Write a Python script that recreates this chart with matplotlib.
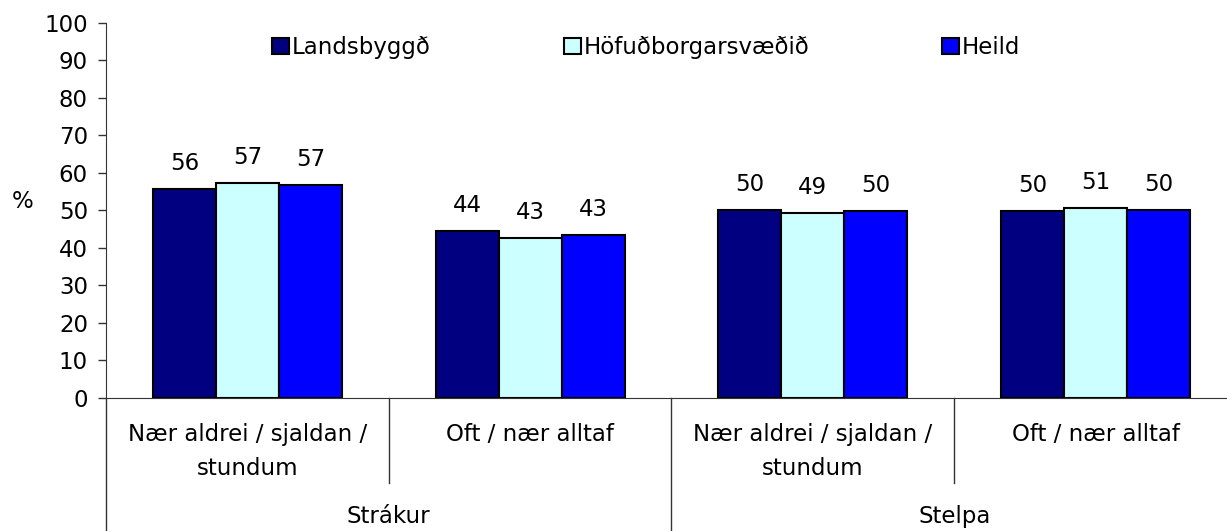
import numpy as np
import matplotlib
matplotlib.use('Agg')
import matplotlib.pyplot as plt
import matplotlib.transforms as mtransforms
from matplotlib.lines import Line2D

plt.rcParams['font.family'] = ['DejaVu Sans']

# Data
categories = ['Nær aldrei / sjaldan /\nstundum', 'Oft / nær alltaf',
              'Nær aldrei / sjaldan /\nstundum', 'Oft / nær alltaf']
groups = ['Strákur', 'Stelpa']
series_names = ['Landsbyggð', 'Höfuðborgarsvæðið', 'Heild']
landsbyggd = [55.6, 44.5, 50.2, 49.8]
hofudborg = [57.3, 42.7, 49.4, 50.6]
heild = [56.7, 43.4, 49.8, 50.2]
series_vals = [landsbyggd, hofudborg, heild]
colors = ['#000080', '#CCFFFF', '#0000FF']

fs = 16.5

fig = plt.figure(figsize=(12.27, 5.31), dpi=100)
ax = fig.add_axes([106/1227, 133/531, (1227-106)/1227, 375.3/531])

x = np.arange(len(categories))
w = 0.223
for i, (name, vals, col) in enumerate(zip(series_names, series_vals, colors)):
    pos = x + (i - 1) * w
    ax.bar(pos, vals, width=w, color=col, edgecolor='black', linewidth=1.5, label=name)
    for p, v in zip(pos, vals):
        ax.annotate('%d' % round(v), (p, v), xytext=(0, 10), textcoords='offset points',
                    ha='center', va='bottom', fontsize=fs)

ax.set_ylim(0, 100)
ax.set_yticks(range(0, 101, 10))
ax.set_xlim(-0.5, 3.5 - 10/283)
ax.set_xticks([])
ax.tick_params(axis='y', labelsize=fs, length=6, width=1, pad=7, color='#333333')
for s in ['top', 'right']:
    ax.spines[s].set_visible(False)
ax.spines['left'].set_color('#333333')
ax.spines['bottom'].set_color('#333333')

# Category axis dividers and labels below the plot
trans = mtransforms.blended_transform_factory(ax.transData, ax.transAxes)
for xv in [0.5, 2.5]:
    ax.add_line(Line2D([xv, xv], [0, -0.226], transform=trans, color='#333333',
                       linewidth=1, clip_on=False))
for xv in [-0.5, 1.5, 3.5]:
    ax.add_line(Line2D([xv, xv], [0, -0.4], transform=trans, color='#333333',
                       linewidth=1, clip_on=False))
for xi, lab in zip(x, categories):
    ax.text(xi, -0.066, lab, transform=trans, ha='center', va='top', fontsize=fs,
            linespacing=1.62)
for gi, g in enumerate(groups):
    ax.text(0.5 + 2 * gi, -0.315, g, transform=trans, ha='center', va='center', fontsize=fs)

fig.text(23/1227, 1 - 201/531, '%', ha='center', va='center', fontsize=fs)

fig.legend(loc='center left', bbox_to_anchor=(272/1227, 1 - 47.5/531), ncol=3, frameon=False,
           fontsize=fs, handlelength=0.75, handleheight=0.75, handletextpad=0.13,
           columnspacing=5.78, borderpad=0, borderaxespad=0)

fig.savefig('out.png', dpi=100)
